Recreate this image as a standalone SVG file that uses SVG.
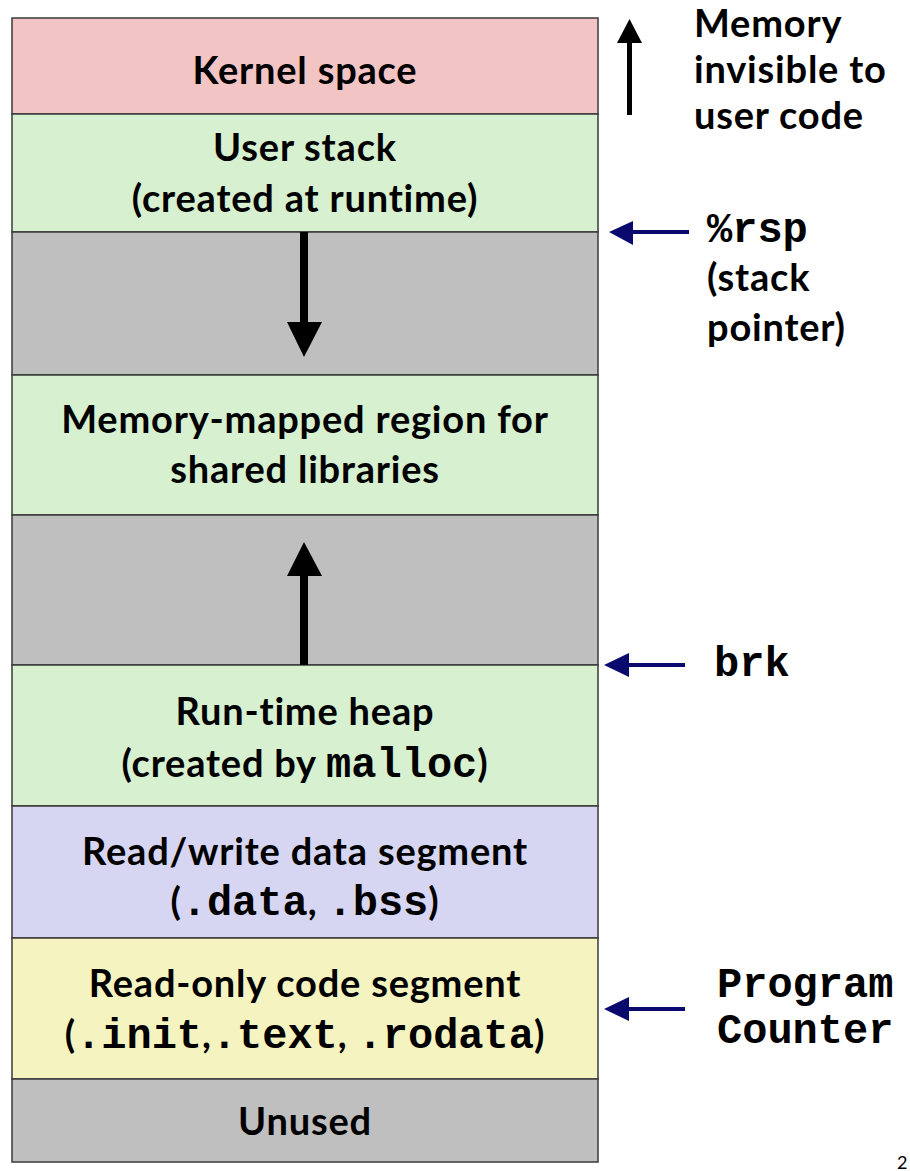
<svg xmlns="http://www.w3.org/2000/svg" width="910" height="1171" viewBox="0 0 910 1171">
<defs>
<style>
.seg{stroke:#3a3a3a;stroke-width:1.5}
.t{font-family:Lato,"Open Sans","Liberation Sans",sans-serif;font-weight:bold;font-size:38px;letter-spacing:0.8px;fill:#000;text-anchor:middle}
.r{font-family:Lato,"Open Sans","Liberation Sans",sans-serif;font-weight:bold;font-size:38px;letter-spacing:0.8px;fill:#000}
.m{font-family:"Liberation Mono","Courier New",monospace;font-weight:bold;font-size:42px;letter-spacing:0}
.nav{fill:#0a0a6e}
</style>
</defs>
<g id="kernel"><rect class="seg" x="12" y="18" width="586" height="96" fill="#f2c4c4"/><text class="t" x="305" y="84">Kernel space</text></g>
<g id="userstack"><rect class="seg" x="12" y="114" width="586" height="118" fill="#d6f0d0"/><text class="t" x="305" y="161">User stack</text><text class="t" x="305" y="212">(created at runtime)</text></g>
<g id="gap1"><rect class="seg" x="12" y="232" width="586" height="143" fill="#bfbfbf"/></g>
<g id="mmap"><rect class="seg" x="12" y="375" width="586" height="140" fill="#d6f0d0"/><text class="t" x="305" y="433">Memory-mapped region for</text><text class="t" x="305" y="483">shared libraries</text></g>
<g id="gap2"><rect class="seg" x="12" y="515" width="586" height="150" fill="#bfbfbf"/></g>
<g id="heap"><rect class="seg" x="12" y="665" width="586" height="141" fill="#d6f0d0"/><text class="t" x="305" y="725">Run-time heap</text><text class="t" x="305" y="777">(created by <tspan class="m">malloc</tspan>)</text></g>
<g id="data"><rect class="seg" x="12" y="806" width="586" height="132" fill="#d6d6f3"/><text class="t" x="305" y="865">Read/write data segment</text><text class="t" x="305" y="915">(<tspan class="m">.data</tspan>, <tspan class="m">.bss</tspan>)</text></g>
<g id="code"><rect class="seg" x="12" y="938" width="586" height="141" fill="#f5f4c0"/><text class="t" x="305" y="997">Read-only code segment</text><text class="t" x="305" y="1048">(<tspan class="m">.init</tspan>,<tspan class="m">.text</tspan>, <tspan class="m">.rodata</tspan>)</text></g>
<g id="unused"><rect class="seg" x="12" y="1079" width="586" height="83" fill="#bfbfbf"/><text class="t" x="305" y="1135">Unused</text></g>
<g id="connectors">
<rect x="300" y="232" width="8" height="91"/><polygon points="287,322 322,322 304,357"/>
<rect x="300" y="575" width="8" height="90"/><polygon points="287,576 322,576 304,542"/>
<rect x="627" y="42" width="5" height="73"/><polygon points="617,43 642,43 629.5,19"/>
<rect class="nav" x="630" y="230" width="59" height="4"/><polygon class="nav" points="609,232 633,221 633,245"/>
<rect class="nav" x="625" y="663" width="60" height="4"/><polygon class="nav" points="604,665 629,653 629,677"/>
<rect class="nav" x="625" y="1007" width="60" height="4"/><polygon class="nav" points="604,1009 629,997 629,1021"/>
</g>
<g id="labels">
<text class="r" x="694" y="37">Memory</text>
<text class="r" x="694" y="83">invisible to</text>
<text class="r" x="694" y="129">user code</text>
<text class="m" x="707" y="242">%rsp</text>
<text class="r" x="707" y="291">(stack</text>
<text class="r" x="707" y="341">pointer)</text>
<text class="m" x="714" y="676">brk</text>
<text class="m" x="717" y="997">Program</text>
<text class="m" x="717" y="1043">Counter</text>
<text font-family="Lato,sans-serif" font-size="18" x="897" y="1169">2</text>
</g>
</svg>
